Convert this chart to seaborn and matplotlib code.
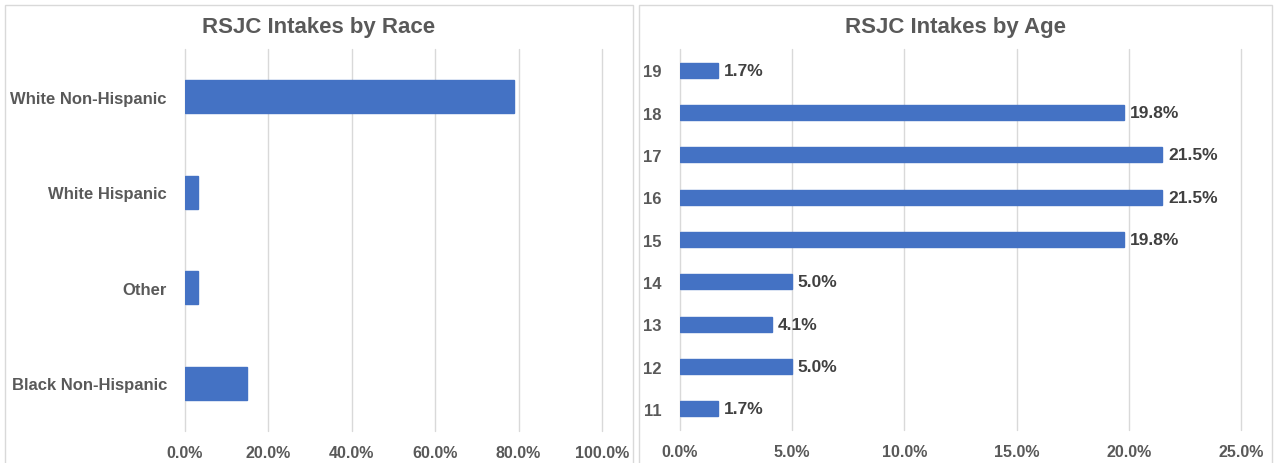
import matplotlib
matplotlib.use("Agg")
import matplotlib.pyplot as plt
import seaborn as sns
import pandas as pd
from matplotlib.patches import Rectangle
from matplotlib.ticker import PercentFormatter, MultipleLocator

sns.set_theme(style="white")
plt.rcParams['font.family'] = ['Liberation Sans', 'DejaVu Sans']

race_categories = ["White Non-Hispanic", "White Hispanic", "Other", "Black Non-Hispanic"]
race_values = [78.8, 3.2, 3.2, 14.8]

age_categories = ["19", "18", "17", "16", "15", "14", "13", "12", "11"]
age_values = [1.7, 19.8, 21.5, 21.5, 19.8, 5.0, 4.1, 5.0, 1.7]

BAR = "#4472C4"
TXT = "#595959"
GRID = "#D9D9D9"

W, H = 1277, 464
fig = plt.figure(figsize=(W / 100, H / 100), dpi=100)

def ax_rect(x0, x1, y0, y1):
    return [x0 / W, 1 - y1 / H, (x1 - x0) / W, (y1 - y0) / H]

panels = [(5, 633), (639, 1272)]
for (x0, x1) in panels:
    fig.patches.append(Rectangle((x0 / W, -0.05), (x1 - x0) / W, 1 - 6 / H + 0.05,
                                 transform=fig.transFigure, fill=False,
                                 edgecolor=GRID, linewidth=1.0))

ax1 = fig.add_axes(ax_rect(185, 602, 50, 432))
ax2 = fig.add_axes(ax_rect(680, 1241, 50, 431))

df_race = pd.DataFrame({"cat": race_categories, "val": race_values})
df_age = pd.DataFrame({"cat": age_categories, "val": age_values})

sns.barplot(data=df_race, x="val", y="cat", order=race_categories, color=BAR,
            saturation=1, width=0.35, ax=ax1, edgecolor=BAR)
sns.barplot(data=df_age, x="val", y="cat", order=age_categories, color=BAR,
            saturation=1, width=0.36, ax=ax2, edgecolor=BAR)

ax1.set_xlim(0, 100)
ax1.xaxis.set_major_locator(MultipleLocator(20))
ax2.set_xlim(0, 25)
ax2.xaxis.set_major_locator(MultipleLocator(5))

for ax in (ax1, ax2):
    ax.xaxis.set_major_formatter(PercentFormatter(decimals=1))
    ax.set_xlabel("")
    ax.set_ylabel("")
    ax.set_axisbelow(True)
    ax.grid(axis="x", color=GRID, linewidth=1.0)
    ax.grid(axis="y", visible=False)
    for gl in ax.get_xgridlines():
        gl.set_clip_on(False)
    for s in ax.spines.values():
        s.set_visible(False)
    ax.tick_params(axis="x", length=0, colors=TXT, labelsize=11.5, pad=10)
    ax.tick_params(axis="y", length=0, colors=TXT, labelsize=12, pad=13)
    for lab in ax.get_xticklabels() + ax.get_yticklabels():
        lab.set_fontweight("bold")
    ax.set_facecolor("none")

for (x0, x1), title in zip(panels, ["RSJC Intakes by Race", "RSJC Intakes by Age"]):
    fig.text((x0 + x1) / 2 / W, 1 - 27 / H, title, ha="center", va="center",
             fontsize=16, fontweight="bold", color=TXT)

for cont in ax2.containers:
    ax2.bar_label(cont, labels=[f"{v:.1f}%" for v in age_values], padding=4,
                  fontsize=12.5, fontweight="bold", color="#404040")

fig.savefig("out.png", dpi=100, facecolor="white")
